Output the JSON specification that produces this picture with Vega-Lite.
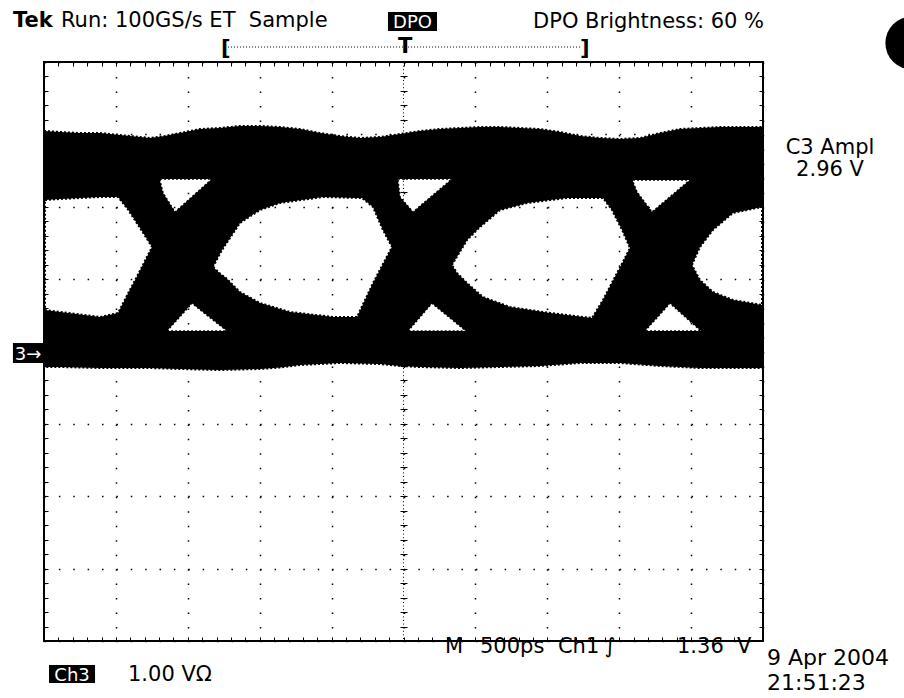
{
  "$schema": "https://vega.github.io/schema/vega-lite/v6.json",
  "width": 719,
  "height": 579,
  "autosize": {"type": "none"},
  "padding": {"left": 44, "top": 62, "right": 141, "bottom": 57},
  "background": "white",
  "view": {"stroke": "black", "strokeWidth": 2, "fill": "white"},
  "resolve": {"axis": {"x": "independent", "y": "independent"}},
  "datasets": {
    "band": [
      {"t": -2500, "hi": 3.047, "lo": -0.214},
      {"t": -2389, "hi": 3.033, "lo": -0.214},
      {"t": -2250, "hi": 3.019, "lo": -0.221},
      {"t": -2111, "hi": 3.019, "lo": -0.228},
      {"t": -1972, "hi": 2.991, "lo": -0.228},
      {"t": -1832, "hi": 2.964, "lo": -0.228},
      {"t": -1763, "hi": 2.950, "lo": -0.228},
      {"t": -1659, "hi": 2.978, "lo": -0.235},
      {"t": -1554, "hi": 3.019, "lo": -0.242},
      {"t": -1415, "hi": 3.074, "lo": -0.249},
      {"t": -1276, "hi": 3.088, "lo": -0.256},
      {"t": -1137, "hi": 3.116, "lo": -0.249},
      {"t": -998, "hi": 3.116, "lo": -0.242},
      {"t": -859, "hi": 3.102, "lo": -0.221},
      {"t": -720, "hi": 3.074, "lo": -0.187},
      {"t": -581, "hi": 3.019, "lo": -0.173},
      {"t": -442, "hi": 2.978, "lo": -0.159},
      {"t": -303, "hi": 2.950, "lo": -0.166},
      {"t": -163, "hi": 2.964, "lo": -0.173},
      {"t": -24, "hi": 3.005, "lo": -0.200},
      {"t": 115, "hi": 3.047, "lo": -0.214},
      {"t": 254, "hi": 3.074, "lo": -0.221},
      {"t": 393, "hi": 3.088, "lo": -0.228},
      {"t": 532, "hi": 3.102, "lo": -0.221},
      {"t": 671, "hi": 3.102, "lo": -0.214},
      {"t": 810, "hi": 3.088, "lo": -0.207},
      {"t": 949, "hi": 3.074, "lo": -0.200},
      {"t": 1088, "hi": 3.033, "lo": -0.180},
      {"t": 1227, "hi": 2.978, "lo": -0.159},
      {"t": 1367, "hi": 2.950, "lo": -0.159},
      {"t": 1506, "hi": 2.936, "lo": -0.159},
      {"t": 1645, "hi": 2.950, "lo": -0.180},
      {"t": 1784, "hi": 3.019, "lo": -0.200},
      {"t": 1923, "hi": 3.074, "lo": -0.214},
      {"t": 2062, "hi": 3.088, "lo": -0.228},
      {"t": 2201, "hi": 3.102, "lo": -0.228},
      {"t": 2340, "hi": 3.102, "lo": -0.228},
      {"t": 2500, "hi": 3.102, "lo": -0.228}
    ],
    "eyes": [
      {"eye": 1, "t": -2493, "hi": 2.093, "lo": 0.573},
      {"eye": 1, "t": -2389, "hi": 2.107, "lo": 0.546},
      {"eye": 1, "t": -2111, "hi": 2.135, "lo": 0.477},
      {"eye": 1, "t": -1985, "hi": 2.135, "lo": 0.532},
      {"eye": 1, "t": -1916, "hi": 1.962, "lo": 0.800},
      {"eye": 1, "t": -1881, "hi": 1.854, "lo": 0.933},
      {"eye": 1, "t": -1832, "hi": 1.706, "lo": 1.119},
      {"eye": 1, "t": -1798, "hi": 1.599, "lo": 1.253},
      {"eye": 1, "t": -1749, "hi": 1.444, "lo": 1.444},
      {"eye": 2, "t": -1325, "hi": 1.168, "lo": 1.168},
      {"eye": 2, "t": -1262, "hi": 1.402, "lo": 1.053},
      {"eye": 2, "t": -1241, "hi": 1.465, "lo": 1.029},
      {"eye": 2, "t": -1137, "hi": 1.776, "lo": 0.822},
      {"eye": 2, "t": -998, "hi": 1.955, "lo": 0.670},
      {"eye": 2, "t": -859, "hi": 2.052, "lo": 0.587},
      {"eye": 2, "t": -789, "hi": 2.071, "lo": 0.546},
      {"eye": 2, "t": -560, "hi": 2.135, "lo": 0.493},
      {"eye": 2, "t": -490, "hi": 2.131, "lo": 0.477},
      {"eye": 2, "t": -323, "hi": 2.122, "lo": 0.477},
      {"eye": 2, "t": -289, "hi": 2.121, "lo": 0.623},
      {"eye": 2, "t": -212, "hi": 1.997, "lo": 0.946},
      {"eye": 2, "t": -143, "hi": 1.679, "lo": 1.209},
      {"eye": 2, "t": -80, "hi": 1.444, "lo": 1.444},
      {"eye": 3, "t": 337, "hi": 1.195, "lo": 1.195},
      {"eye": 3, "t": 372, "hi": 1.310, "lo": 1.085},
      {"eye": 3, "t": 442, "hi": 1.541, "lo": 0.946},
      {"eye": 3, "t": 532, "hi": 1.720, "lo": 0.789},
      {"eye": 3, "t": 553, "hi": 1.755, "lo": 0.753},
      {"eye": 3, "t": 671, "hi": 1.955, "lo": 0.666},
      {"eye": 3, "t": 741, "hi": 1.991, "lo": 0.615},
      {"eye": 3, "t": 859, "hi": 2.052, "lo": 0.579},
      {"eye": 3, "t": 1019, "hi": 2.092, "lo": 0.532},
      {"eye": 3, "t": 1137, "hi": 2.121, "lo": 0.504},
      {"eye": 3, "t": 1311, "hi": 2.121, "lo": 0.463},
      {"eye": 3, "t": 1387, "hi": 2.121, "lo": 0.712},
      {"eye": 3, "t": 1450, "hi": 1.955, "lo": 0.952},
      {"eye": 3, "t": 1485, "hi": 1.817, "lo": 1.085},
      {"eye": 3, "t": 1520, "hi": 1.679, "lo": 1.217},
      {"eye": 3, "t": 1575, "hi": 1.430, "lo": 1.430},
      {"eye": 4, "t": 2006, "hi": 1.195, "lo": 1.195},
      {"eye": 4, "t": 2062, "hi": 1.444, "lo": 0.988},
      {"eye": 4, "t": 2152, "hi": 1.679, "lo": 0.822},
      {"eye": 4, "t": 2291, "hi": 1.914, "lo": 0.712},
      {"eye": 4, "t": 2493, "hi": 1.997, "lo": 0.643}
    ],
    "tritop": [
      {"k": 1, "t": -1693, "hi": 2.383, "lo": 2.356},
      {"k": 1, "t": -1672, "hi": 2.383, "lo": 2.190},
      {"k": 1, "t": -1589, "hi": 2.383, "lo": 1.927},
      {"k": 1, "t": -1332, "hi": 2.383, "lo": 2.383},
      {"k": 2, "t": -38, "hi": 2.383, "lo": 2.356},
      {"k": 2, "t": -24, "hi": 2.383, "lo": 2.135},
      {"k": 2, "t": 66, "hi": 2.383, "lo": 1.927},
      {"k": 2, "t": 337, "hi": 2.383, "lo": 2.383},
      {"k": 3, "t": 1596, "hi": 2.370, "lo": 2.342},
      {"k": 3, "t": 1624, "hi": 2.370, "lo": 2.204},
      {"k": 3, "t": 1728, "hi": 2.370, "lo": 1.927},
      {"k": 3, "t": 1992, "hi": 2.370, "lo": 2.370}
    ],
    "tribot": [
      {"k": 1, "t": -1645, "hi": 0.283, "lo": 0.283},
      {"k": 1, "t": -1471, "hi": 0.666, "lo": 0.283},
      {"k": 1, "t": -1227, "hi": 0.283, "lo": 0.283},
      {"k": 2, "t": 31, "hi": 0.283, "lo": 0.283},
      {"k": 2, "t": 198, "hi": 0.666, "lo": 0.283},
      {"k": 2, "t": 435, "hi": 0.283, "lo": 0.283},
      {"k": 3, "t": 1679, "hi": 0.283, "lo": 0.283},
      {"k": 3, "t": 1853, "hi": 0.666, "lo": 0.283},
      {"k": 3, "t": 2069, "hi": 0.283, "lo": 0.283}
    ],
    "boxes": [
      {"name": "DPO", "t1": -108, "t2": 233, "v1": 4.428, "v2": 4.691},
      {"name": "3", "t1": -2716, "t2": -2507, "v1": 0.117, "v2": -0.159},
      {"name": "Ch3", "t1": -2465, "t2": -2145, "v1": -4.332, "v2": -4.580}
    ],
    "plain": [
      {"s": "Run: 100GS/s ET\u00a0\u00a0Sample", "t": -2382, "v": 4.484},
      {"s": "DPO Brightness: 60 %", "t": 901, "v": 4.470},
      {"s": "M", "t": 289, "v": -4.166},
      {"s": "500ps", "t": 532, "v": -4.166},
      {"s": "Ch1", "t": 1074, "v": -4.166},
      {"s": "∫", "t": 1400, "v": -4.166},
      {"s": "1.36", "t": 1902, "v": -4.166},
      {"s": "V", "t": 2319, "v": -4.166},
      {"s": "1.00 VΩ", "t": -1916, "v": -4.553}
    ],
    "date": [
      {"s": "9 Apr 2004", "t": 2528, "v": -4.332},
      {"s": "21:51:23", "t": 2528, "v": -4.677}
    ],
    "side": [
      {"s": "C3 Ampl", "t": 2966, "v": 2.729},
      {"s": "2.96 V", "t": 2966, "v": 2.425}
    ],
    "bold": [
      {"s": "Tek", "t": -2716, "v": 4.484},
      {"s": "[", "t": -1269, "v": 4.097},
      {"s": "]", "t": 1227, "v": 4.097},
      {"s": "T", "t": -38, "v": 4.124}
    ],
    "white": [
      {"s": "DPO", "t": 63, "v": 4.463},
      {"s": "3→", "t": -2611, "v": -0.111},
      {"s": "Ch3", "t": -2305, "v": -4.553}
    ],
    "trig": [{"t1": -1220, "t2": 1234, "v": 4.207}],
    "cx": [{"t": 0}],
    "cy": [{"v": 0}],
    "dot": [{"t": 3536, "v": 4.2625}]
  },
  "layer": [
    {
      "data": {"name": "band"},
      "mark": {"type": "area", "orient": "vertical", "fill": "black", "stroke": "black", "strokeWidth": 2, "strokeDash": [2, 2], "clip": false},
      "encoding": {
        "x": {"field": "t", "type": "quantitative", "scale": {"domain": [-2500, 2500], "nice": false, "zero": false},
              "axis": {"orient": "bottom", "title": null, "labels": false, "ticks": false, "domain": false, "grid": true, "tickCount": 10, "gridColor": "black", "gridWidth": 1.5, "gridDash": [1.5, 12.975], "gridOpacity": 1, "zindex": 1}},
        "y": {"field": "hi", "type": "quantitative", "scale": {"domain": [-4, 4], "nice": false, "zero": false},
              "axis": {"orient": "left", "title": null, "labels": false, "ticks": false, "domain": false, "grid": true, "tickCount": 8, "gridColor": "black", "gridWidth": 1.5, "gridDash": [1.5, 12.88], "gridOpacity": 1, "zindex": 1}},
        "y2": {"field": "lo"}
      }
    },
    {
      "data": {"name": "eyes"},
      "mark": {"type": "area", "orient": "vertical", "fill": "white", "stroke": "black", "strokeWidth": 2, "strokeDash": [2, 2], "clip": false},
      "encoding": {
        "x": {"field": "t", "type": "quantitative",
              "axis": {"orient": "bottom", "offset": -4, "title": null, "labels": false, "ticks": true, "tickSize": 4, "tickColor": "black", "tickWidth": 1, "domain": false, "grid": false, "tickCount": 50, "zindex": 1}},
        "y": {"field": "hi", "type": "quantitative",
              "axis": {"orient": "left", "offset": -4, "title": null, "labels": false, "ticks": true, "tickSize": 4, "tickColor": "black", "tickWidth": 1, "domain": false, "grid": false, "tickCount": 40, "zindex": 1}},
        "y2": {"field": "lo"},
        "detail": {"field": "eye"}
      }
    },
    {
      "data": {"name": "tritop"},
      "mark": {"type": "area", "orient": "vertical", "fill": "white", "stroke": "black", "strokeWidth": 1.5, "strokeDash": [2, 2], "clip": false},
      "encoding": {
        "x": {"field": "t", "type": "quantitative",
              "axis": {"orient": "top", "offset": -4, "title": null, "labels": false, "ticks": true, "tickSize": 4, "tickColor": "black", "tickWidth": 1, "domain": false, "grid": false, "tickCount": 50, "zindex": 1}},
        "y": {"field": "hi", "type": "quantitative",
              "axis": {"orient": "right", "offset": -4, "title": null, "labels": false, "ticks": true, "tickSize": 4, "tickColor": "black", "tickWidth": 1, "domain": false, "grid": false, "tickCount": 40, "zindex": 1}},
        "y2": {"field": "lo"},
        "detail": {"field": "k"}
      }
    },
    {
      "data": {"name": "tribot"},
      "mark": {"type": "area", "orient": "vertical", "fill": "white", "stroke": "black", "strokeWidth": 1.5, "strokeDash": [2, 2], "clip": false},
      "encoding": {
        "x": {"field": "t", "type": "quantitative",
              "axis": {"orient": "bottom", "offset": -289.5, "title": null, "labels": false, "ticks": true, "tickSize": 3.5, "tickColor": "black", "tickWidth": 1, "domain": false, "grid": false, "tickCount": 50, "zindex": 1}},
        "y": {"field": "hi", "type": "quantitative",
              "axis": {"orient": "right", "offset": -359.5, "title": null, "labels": false, "ticks": true, "tickSize": 3.5, "tickColor": "black", "tickWidth": 1, "domain": false, "grid": false, "tickCount": 40, "zindex": 1}},
        "y2": {"field": "lo"},
        "detail": {"field": "k"}
      }
    },
    {
      "data": {"name": "boxes"},
      "mark": {"type": "rect", "color": "black", "clip": false},
      "encoding": {
        "x": {"field": "t1", "type": "quantitative",
              "axis": {"orient": "top", "offset": -289.5, "title": null, "labels": false, "ticks": true, "tickSize": 3.5, "tickColor": "black", "tickWidth": 1, "domain": false, "grid": false, "tickCount": 50, "zindex": 1}},
        "x2": {"field": "t2"},
        "y": {"field": "v1", "type": "quantitative",
              "axis": {"orient": "left", "offset": -359.5, "title": null, "labels": false, "ticks": true, "tickSize": 3.5, "tickColor": "black", "tickWidth": 1, "domain": false, "grid": false, "tickCount": 40, "zindex": 1}},
        "y2": {"field": "v2"}
      }
    },
    {
      "data": {"name": "cx"},
      "mark": {"type": "rule", "color": "black", "strokeWidth": 1, "strokeDash": [1, 2.6]},
      "encoding": {"x": {"field": "t", "type": "quantitative", "axis": null}}
    },
    {
      "data": {"name": "cy"},
      "mark": {"type": "rule", "color": "black", "strokeWidth": 1, "strokeDash": [1, 2.6]},
      "encoding": {"y": {"field": "v", "type": "quantitative", "axis": null}}
    },
    {
      "data": {"name": "trig"},
      "mark": {"type": "rule", "color": "black", "strokeWidth": 1, "strokeDash": [1, 2], "clip": false},
      "encoding": {
        "x": {"field": "t1", "type": "quantitative", "axis": null},
        "x2": {"field": "t2"},
        "y": {"field": "v", "type": "quantitative", "axis": null}
      }
    },
    {
      "data": {"name": "plain"},
      "mark": {"type": "text", "font": "DejaVu Sans", "fontSize": 21, "align": "left", "baseline": "alphabetic", "color": "black", "clip": false},
      "encoding": {
        "x": {"field": "t", "type": "quantitative", "axis": null},
        "y": {"field": "v", "type": "quantitative", "axis": null},
        "text": {"field": "s"}
      }
    },
    {
      "data": {"name": "date"},
      "mark": {"type": "text", "font": "DejaVu Sans", "fontSize": 22, "align": "left", "baseline": "alphabetic", "color": "black", "clip": false},
      "encoding": {
        "x": {"field": "t", "type": "quantitative", "axis": null},
        "y": {"field": "v", "type": "quantitative", "axis": null},
        "text": {"field": "s"}
      }
    },
    {
      "data": {"name": "side"},
      "mark": {"type": "text", "font": "DejaVu Sans", "fontSize": 21, "align": "center", "baseline": "alphabetic", "color": "black", "clip": false},
      "encoding": {
        "x": {"field": "t", "type": "quantitative", "axis": null},
        "y": {"field": "v", "type": "quantitative", "axis": null},
        "text": {"field": "s"}
      }
    },
    {
      "data": {"name": "bold"},
      "mark": {"type": "text", "font": "DejaVu Sans", "fontSize": 21, "fontWeight": "bold", "align": "left", "baseline": "alphabetic", "color": "black", "clip": false},
      "encoding": {
        "x": {"field": "t", "type": "quantitative", "axis": null},
        "y": {"field": "v", "type": "quantitative", "axis": null},
        "text": {"field": "s"}
      }
    },
    {
      "data": {"name": "white"},
      "mark": {"type": "text", "font": "DejaVu Sans", "fontSize": 18, "align": "center", "baseline": "alphabetic", "color": "white", "clip": false},
      "encoding": {
        "x": {"field": "t", "type": "quantitative", "axis": null},
        "y": {"field": "v", "type": "quantitative", "axis": null},
        "text": {"field": "s"}
      }
    },
    {
      "data": {"name": "dot"},
      "mark": {"type": "point", "shape": "circle", "filled": true, "color": "black", "opacity": 1, "size": 2827, "clip": false},
      "encoding": {
        "x": {"field": "t", "type": "quantitative", "axis": null},
        "y": {"field": "v", "type": "quantitative", "axis": null}
      }
    }
  ]
}
